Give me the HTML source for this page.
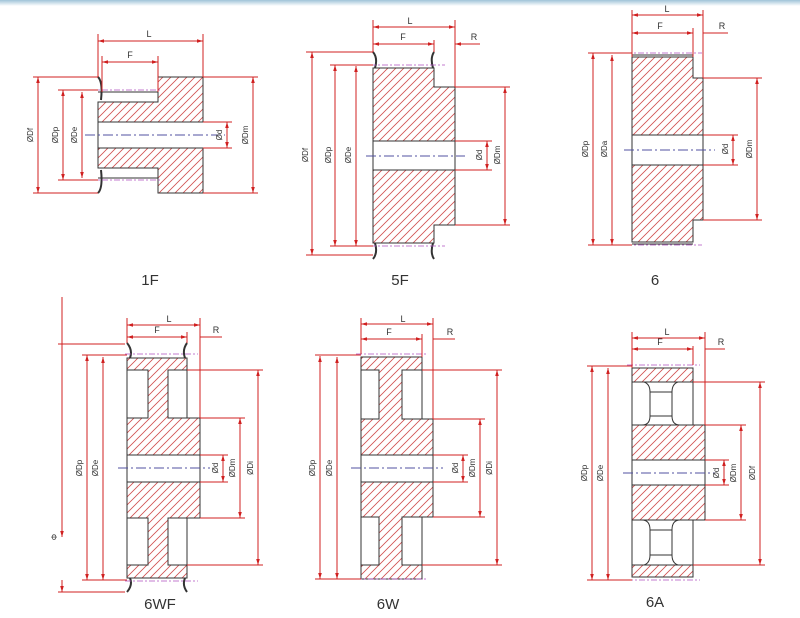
<!DOCTYPE html>
<html><head><meta charset="utf-8">
<style>
html,body{margin:0;padding:0;background:#fff;}
svg{display:block;}
text{font-family:"Liberation Sans",sans-serif;}
</style></head>
<body>
<svg width="800" height="618" viewBox="0 0 800 618" xmlns="http://www.w3.org/2000/svg">
<defs>
<linearGradient id="tb" x1="0" y1="0" x2="0" y2="1"><stop offset="0" stop-color="#9fc3d8"/><stop offset="1" stop-color="#ffffff"/></linearGradient>
<pattern id="h" width="8" height="8" patternUnits="userSpaceOnUse">
<path d="M-2,2 L2,-2 M0,8 L8,0 M6,10 L10,6" stroke="#d05050" stroke-width="0.8"/>
</pattern>
<marker id="a" viewBox="0 0 10 10" refX="10" refY="5" markerWidth="6" markerHeight="6" orient="auto-start-reverse"><path d="M0,2 L10,5 L0,8 z" fill="#d02020"/></marker>
</defs>
<rect x="0" y="0" width="800" height="6" fill="url(#tb)"/>

<!-- ================= 1F ================= -->
<g>
<path d="M158,77 H203 V122 H98 V102 H158 Z" fill="url(#h)" stroke="#333" stroke-width="1"/>
<path d="M158,193 H203 V148 H98 V168 H158 Z" fill="url(#h)" stroke="#333" stroke-width="1"/>
<path d="M98,92 H158 M98,178 H158 M98,102 V168" stroke="#333" fill="none"/>
<path d="M98,77 Q103,82 101,100 M98,193 Q103,188 101,170" stroke="#333" stroke-width="2" fill="none"/>
<path d="M90,90 H160 M90,180 H160" stroke="#b050c0" stroke-dasharray="6,2,2,2" stroke-width="0.8"/>
<path d="M85,135 H225" stroke="#5050a0" stroke-dasharray="10,3,2,3"/>
<g stroke="#d02020" stroke-width="1" fill="none">
<path d="M98,34 V77 M203,34 V77 M102,56 V92 M158,56 V92"/>
<path d="M98,41 H203" marker-start="url(#a)" marker-end="url(#a)"/>
<path d="M102,62 H158" marker-start="url(#a)" marker-end="url(#a)"/>
<path d="M33,77 H98 M33,193 H98 M58,90 H98 M58,180 H98"/>
<path d="M38,77 V193" marker-start="url(#a)" marker-end="url(#a)"/>
<path d="M63,90 V180" marker-start="url(#a)" marker-end="url(#a)"/>
<path d="M82,92 V178" marker-start="url(#a)" marker-end="url(#a)"/>
<path d="M203,122 H232 M203,148 H232 M203,77 H258 M203,193 H258"/>
<path d="M227,122 V148" marker-start="url(#a)" marker-end="url(#a)"/>
<path d="M253,77 V193" marker-start="url(#a)" marker-end="url(#a)"/>
</g>
<g font-size="8" fill="#333" text-anchor="middle">
<text x="149" y="37" font-size="9">L</text><text x="130" y="58" font-size="9">F</text>
<text transform="translate(33,135) rotate(-90)">ØDf</text>
<text transform="translate(58,135) rotate(-90)">ØDp</text>
<text transform="translate(77,135) rotate(-90)">ØDe</text>
<text transform="translate(222,135) rotate(-90)">Ød</text>
<text transform="translate(248,135) rotate(-90)">ØDm</text>
</g>
<text x="150" y="285" font-size="15" fill="#333" text-anchor="middle">1F</text>
</g>

<!-- ================= 5F ================= -->
<g>
<path d="M373,68 H434 V87 H455 V141 H373 Z" fill="url(#h)" stroke="#333"/>
<path d="M373,243 H434 V225 H455 V170 H373 Z" fill="url(#h)" stroke="#333"/>
<path d="M373,141 V170 M455,141 V170" stroke="#333"/>
<path d="M373,52 Q378,58 375,68 M434,52 Q430,58 433,68 M373,259 Q378,253 375,243 M434,259 Q430,253 433,243" stroke="#333" stroke-width="2" fill="none"/>
<path d="M370,65 H445 M370,246 H445" stroke="#b050c0" stroke-dasharray="6,2,2,2" stroke-width="0.8"/>
<path d="M366,156 H465" stroke="#5050a0" stroke-dasharray="10,3,2,3"/>
<g stroke="#d02020" fill="none">
<path d="M373,20 V52 M455,20 V87 M434,40 V52"/>
<path d="M373,27 H455" marker-start="url(#a)" marker-end="url(#a)"/>
<path d="M373,44 H434" marker-start="url(#a)" marker-end="url(#a)"/>
<path d="M455,44 H480 M467,44 L455,44" marker-end="url(#a)"/>
<path d="M306,52 H373 M306,255 H373 M330,65 H373 M330,246 H373"/>
<path d="M312,52 V255" marker-start="url(#a)" marker-end="url(#a)"/>
<path d="M335,65 V246" marker-start="url(#a)" marker-end="url(#a)"/>
<path d="M356,66 V246" marker-start="url(#a)" marker-end="url(#a)"/>
<path d="M455,141 H492 M455,170 H492 M455,87 H510 M455,225 H510"/>
<path d="M487,141 V170" marker-start="url(#a)" marker-end="url(#a)"/>
<path d="M505,87 V225" marker-start="url(#a)" marker-end="url(#a)"/>
</g>
<g font-size="8" fill="#333" text-anchor="middle">
<text x="410" y="24" font-size="9">L</text><text x="403" y="40" font-size="9">F</text><text x="474" y="40" font-size="9">R</text>
<text transform="translate(308,155) rotate(-90)">ØDf</text>
<text transform="translate(331,155) rotate(-90)">ØDp</text>
<text transform="translate(351,155) rotate(-90)">ØDe</text>
<text transform="translate(482,155) rotate(-90)">Ød</text>
<text transform="translate(500,155) rotate(-90)">ØDm</text>
</g>
<text x="400" y="285" font-size="15" fill="#333" text-anchor="middle">5F</text>
</g>

<!-- ================= 6 ================= -->
<g>
<path d="M632,57 H693 V78 H703 V135 H632 Z" fill="url(#h)" stroke="#333"/>
<path d="M632,242 H693 V220 H703 V165 H632 Z" fill="url(#h)" stroke="#333"/>
<path d="M632,135 V165 M703,135 V165 M632,55 H693 M632,244 H693" stroke="#333"/>
<path d="M626,53 H702 M626,245 H702" stroke="#b050c0" stroke-dasharray="6,2,2,2" stroke-width="0.8"/>
<path d="M624,150 H715" stroke="#5050a0" stroke-dasharray="10,3,2,3"/>
<g stroke="#d02020" fill="none">
<path d="M632,10 V57 M703,10 V78 M693,28 V57"/>
<path d="M632,15 H703" marker-start="url(#a)" marker-end="url(#a)"/>
<path d="M632,33 H693" marker-start="url(#a)" marker-end="url(#a)"/>
<path d="M703,33 H728" />
<path d="M588,53 H632 M588,245 H632"/>
<path d="M593,53 V245" marker-start="url(#a)" marker-end="url(#a)"/>
<path d="M612,55 V245" marker-start="url(#a)" marker-end="url(#a)"/>
<path d="M703,135 H738 M703,165 H738 M703,78 H762 M703,220 H762"/>
<path d="M733,135 V165" marker-start="url(#a)" marker-end="url(#a)"/>
<path d="M757,78 V220" marker-start="url(#a)" marker-end="url(#a)"/>
</g>
<g font-size="8" fill="#333" text-anchor="middle">
<text x="667" y="12" font-size="9">L</text><text x="660" y="29" font-size="9">F</text><text x="722" y="29" font-size="9">R</text>
<text transform="translate(588,149) rotate(-90)">ØDp</text>
<text transform="translate(607,149) rotate(-90)">ØDa</text>
<text transform="translate(728,149) rotate(-90)">Ød</text>
<text transform="translate(752,149) rotate(-90)">ØDm</text>
</g>
<text x="655" y="285" font-size="15" fill="#333" text-anchor="middle">6</text>
</g>

<!-- ================= 6WF ================= -->
<g>
<path d="M127,358 H187 V370 H168 V418 H200 V455 H127 V418 H148 V370 H127 Z" fill="url(#h)" stroke="#333"/>
<path d="M127,578 H187 V565 H168 V518 H200 V482 H127 V518 H148 V565 H127 Z" fill="url(#h)" stroke="#333"/>
<path d="M127,370 V418 M127,518 V565 M187,370 V418 M187,518 V565 M127,455 V482 M200,455 V482" stroke="#333"/>
<path d="M127,343 Q133,350 130,358 M187,343 Q182,350 185,358 M127,592 Q133,585 130,578 M187,592 Q182,585 185,578" stroke="#333" stroke-width="2" fill="none"/>
<path d="M125,354 H198 M125,581 H198" stroke="#b050c0" stroke-dasharray="6,2,2,2" stroke-width="0.8"/>
<path d="M118,468 H210" stroke="#5050a0" stroke-dasharray="10,3,2,3"/>
<g stroke="#d02020" fill="none">
<path d="M127,318 V343 M200,318 V418 M187,332 V343"/>
<path d="M127,325 H200" marker-start="url(#a)" marker-end="url(#a)"/>
<path d="M127,337 H187" marker-start="url(#a)" marker-end="url(#a)"/>
<path d="M200,337 H222"/>
<path d="M58,344 H125 M58,592 H125 M62,297 V537" />
<path d="M62,520 V537" marker-end="url(#a)"/>
<path d="M62,592 V580" marker-start="url(#a)"/>
<path d="M82,355 H127 M82,580 H127"/>
<path d="M87,355 V580" marker-start="url(#a)" marker-end="url(#a)"/>
<path d="M103,357 V580" marker-start="url(#a)" marker-end="url(#a)"/>
<path d="M200,455 H228 M200,482 H228 M200,418 H245 M200,518 H245 M187,370 H263 M187,565 H263"/>
<path d="M223,455 V482" marker-start="url(#a)" marker-end="url(#a)"/>
<path d="M240,418 V518" marker-start="url(#a)" marker-end="url(#a)"/>
<path d="M258,370 V565" marker-start="url(#a)" marker-end="url(#a)"/>
</g>
<g font-size="8" fill="#333" text-anchor="middle">
<text x="169" y="322" font-size="9">L</text><text x="157" y="333" font-size="9">F</text><text x="216" y="333" font-size="9">R</text>
<text transform="translate(57,537) rotate(-90)">Φ</text>
<text transform="translate(82,468) rotate(-90)">ØDp</text>
<text transform="translate(98,468) rotate(-90)">ØDe</text>
<text transform="translate(218,468) rotate(-90)">Ød</text>
<text transform="translate(235,468) rotate(-90)">ØDm</text>
<text transform="translate(253,468) rotate(-90)">ØDi</text>
</g>
<text x="160" y="609" font-size="15" fill="#333" text-anchor="middle">6WF</text>
</g>

<!-- ================= 6W ================= -->
<g>
<path d="M361,357 H422 V370 H402 V419 H433 V455 H361 V419 H379 V370 H361 Z" fill="url(#h)" stroke="#333"/>
<path d="M361,579 H422 V565 H402 V517 H433 V482 H361 V517 H379 V565 H361 Z" fill="url(#h)" stroke="#333"/>
<path d="M361,370 V419 M361,517 V565 M422,370 V419 M422,517 V565 M361,455 V482 M433,455 V482" stroke="#333"/>
<path d="M356,354 H428 M356,579 H428" stroke="#b050c0" stroke-dasharray="6,2,2,2" stroke-width="0.8"/>
<path d="M351,468 H443" stroke="#5050a0" stroke-dasharray="10,3,2,3"/>
<g stroke="#d02020" fill="none">
<path d="M361,318 V354 M433,318 V419 M422,334 V357"/>
<path d="M361,324 H433" marker-start="url(#a)" marker-end="url(#a)"/>
<path d="M361,339 H422" marker-start="url(#a)" marker-end="url(#a)"/>
<path d="M433,339 H455"/>
<path d="M315,355 H361 M315,579 H361"/>
<path d="M320,356 V579" marker-start="url(#a)" marker-end="url(#a)"/>
<path d="M337,357 V579" marker-start="url(#a)" marker-end="url(#a)"/>
<path d="M433,455 H468 M433,482 H468 M433,419 H485 M433,517 H485 M422,370 H502 M422,565 H502"/>
<path d="M463,455 V482" marker-start="url(#a)" marker-end="url(#a)"/>
<path d="M480,419 V517" marker-start="url(#a)" marker-end="url(#a)"/>
<path d="M497,370 V565" marker-start="url(#a)" marker-end="url(#a)"/>
</g>
<g font-size="8" fill="#333" text-anchor="middle">
<text x="403" y="322" font-size="9">L</text><text x="389" y="335" font-size="9">F</text><text x="450" y="335" font-size="9">R</text>
<text transform="translate(315,468) rotate(-90)">ØDp</text>
<text transform="translate(332,468) rotate(-90)">ØDe</text>
<text transform="translate(458,468) rotate(-90)">Ød</text>
<text transform="translate(475,468) rotate(-90)">ØDm</text>
<text transform="translate(492,468) rotate(-90)">ØDi</text>
</g>
<text x="388" y="609" font-size="15" fill="#333" text-anchor="middle">6W</text>
</g>

<!-- ================= 6A ================= -->
<g>
<rect x="632" y="368" width="61" height="14" fill="url(#h)" stroke="#333"/>
<rect x="632" y="565" width="61" height="12" fill="url(#h)" stroke="#333"/>
<rect x="632" y="425" width="73" height="35" fill="url(#h)" stroke="#333"/>
<rect x="632" y="485" width="73" height="35" fill="url(#h)" stroke="#333"/>
<path d="M632,382 V425 M693,382 V425 M632,520 V565 M693,520 V565 M632,460 V485 M705,460 V485" stroke="#333" fill="none"/>
<path d="M644,382 Q650,384 650,392 V416 Q650,425 642,425 M678,382 Q672,384 672,392 V416 Q672,425 680,425 M650,392 H672 M650,416 H672" stroke="#333" fill="none"/>
<path d="M644,565 Q650,563 650,555 V530 Q650,520 642,520 M678,565 Q672,563 672,555 V530 Q672,520 680,520 M650,530 H672 M650,555 H672" stroke="#333" fill="none"/>
<path d="M627,365 H700 M627,580 H700" stroke="#b050c0" stroke-dasharray="6,2,2,2" stroke-width="0.8"/>
<path d="M623,473 H715" stroke="#5050a0" stroke-dasharray="10,3,2,3"/>
<g stroke="#d02020" fill="none">
<path d="M632,332 V368 M705,332 V425 M693,346 V365"/>
<path d="M632,338 H705" marker-start="url(#a)" marker-end="url(#a)"/>
<path d="M632,349 H693" marker-start="url(#a)" marker-end="url(#a)"/>
<path d="M705,349 H725"/>
<path d="M587,366 H632 M587,580 H632"/>
<path d="M592,366 V580" marker-start="url(#a)" marker-end="url(#a)"/>
<path d="M608,368 V580" marker-start="url(#a)" marker-end="url(#a)"/>
<path d="M705,460 H729 M705,485 H729 M705,425 H746 M705,520 H746 M693,382 H765 M693,565 H765"/>
<path d="M724,460 V485" marker-start="url(#a)" marker-end="url(#a)"/>
<path d="M741,425 V520" marker-start="url(#a)" marker-end="url(#a)"/>
<path d="M760,382 V565" marker-start="url(#a)" marker-end="url(#a)"/>
</g>
<g font-size="8" fill="#333" text-anchor="middle">
<text x="667" y="335" font-size="9">L</text><text x="660" y="345" font-size="9">F</text><text x="721" y="345" font-size="9">R</text>
<text transform="translate(587,473) rotate(-90)">ØDp</text>
<text transform="translate(603,473) rotate(-90)">ØDe</text>
<text transform="translate(719,473) rotate(-90)">Ød</text>
<text transform="translate(736,473) rotate(-90)">ØDm</text>
<text transform="translate(755,473) rotate(-90)">ØDf</text>
</g>
<text x="655" y="607" font-size="15" fill="#333" text-anchor="middle">6A</text>
</g>
</svg>
</body></html>
